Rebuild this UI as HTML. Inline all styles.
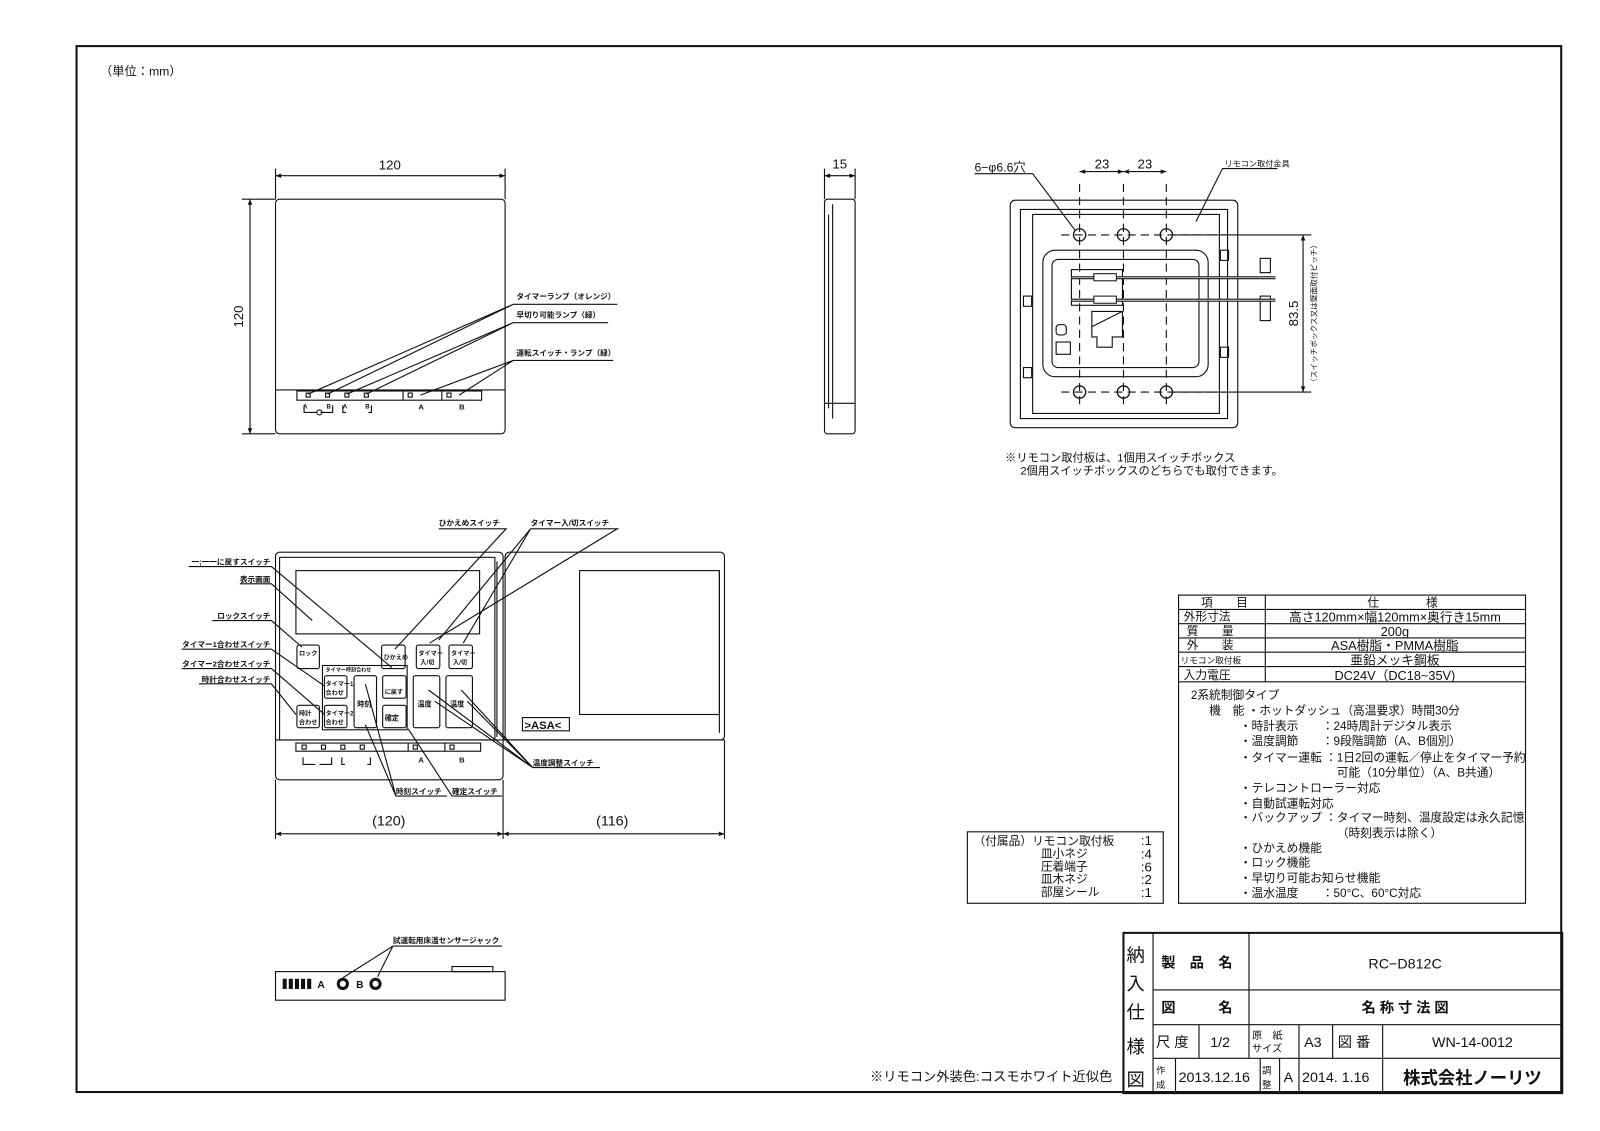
<!DOCTYPE html>
<html><head><meta charset="utf-8"><style>
html,body{margin:0;padding:0;background:#fff;}
svg{display:block;}
text{font-family:"Liberation Sans","Noto Sans CJK JP",sans-serif;fill:#111;}
.b{font-weight:bold;}
</style></head><body>
<svg width="1600" height="1131" viewBox="0 0 1568 1108" xmlns="http://www.w3.org/2000/svg">
<defs>
<marker id="ar" viewBox="0 0 10 10" refX="10" refY="5" markerWidth="7" markerHeight="5" orient="auto-start-reverse"><path d="M0,1 L10,5 L0,9 z" fill="#111"/></marker>
</defs>
<rect x="0" y="0" width="1568" height="1108" fill="#fff"/>
<rect x="75" y="45" width="1455" height="1025" fill="none" stroke="#111" stroke-width="2"/>
<text x="98" y="74" font-size="12">（単位：mm）</text>

<g fill="none" stroke="#111" stroke-width="1.1">
<!-- front view -->
<rect x="270" y="195" width="225" height="230" rx="4"/>
<line x1="270" y1="382" x2="495" y2="382"/>
<rect x="291" y="383" width="181" height="9"/>
<line x1="395" y1="383" x2="395" y2="392"/><line x1="433" y1="383" x2="433" y2="392"/>
<rect x="300" y="385" width="4" height="4"/><rect x="319" y="385" width="4" height="4"/><rect x="338" y="385" width="4" height="4"/><rect x="357" y="385" width="4" height="4"/>
<rect x="400" y="385" width="4" height="4"/><rect x="438" y="385" width="4" height="4"/>
<path d="M298 397 v7 h12 M326 397 v7 h-12 M336 397 v7 h3 M364 397 v7 h-3"/>
<circle cx="313" cy="404" r="2.5"/>
<line x1="270" y1="165" x2="270" y2="195"/><line x1="495" y1="165" x2="495" y2="195"/>
<line x1="270" y1="172" x2="495" y2="172" marker-start="url(#ar)" marker-end="url(#ar)"/>
<line x1="237" y1="195" x2="270" y2="195"/><line x1="237" y1="425" x2="270" y2="425"/>
<line x1="245" y1="195" x2="245" y2="425" marker-start="url(#ar)" marker-end="url(#ar)"/>
<path d="M605 298 H503 L302 386 M503 298 L321 386 M596 316 H503 L340 386 M503 316 L359 386 M601 353 H503 L412 387 M503 353 L450 387"/>
<!-- side view -->
<rect x="808" y="195" width="30" height="230" rx="3"/>
<line x1="812" y1="210" x2="812" y2="400"/><line x1="816" y1="200" x2="816" y2="410"/>
<line x1="808" y1="395" x2="838" y2="395"/>
<line x1="808" y1="165" x2="808" y2="195"/><line x1="838" y1="165" x2="838" y2="195"/>
<line x1="808" y1="172" x2="838" y2="172" marker-start="url(#ar)" marker-end="url(#ar)"/>
<!-- mount plate -->
<rect x="990" y="196" width="223" height="223" rx="5"/>
<path d="M1000 205 H1203 V410 H1000 Z"/>
<path d="M1012 210 H1195 V405 H1012 Z"/>
<rect x="1022" y="245" width="162" height="124" rx="12"/>
<rect x="1031" y="254" width="144" height="106" rx="6"/>
<rect x="1050" y="264" width="50" height="35"/>
<path d="M1070 305 h30 v25 h-10 v10 h-15 v-10 h-5 z M1070 320 L1100 305"/>
<rect x="1035" y="318" width="10" height="10" rx="3"/>
<rect x="1035" y="335" width="14" height="12"/>
<rect x="1003" y="290" width="8" height="10"/><rect x="1003" y="360" width="8" height="10"/>
<rect x="1196" y="245" width="8" height="10"/><rect x="1196" y="340" width="8" height="10"/>
<g stroke-width="1.3">
<circle cx="1058" cy="230" r="6"/><circle cx="1101" cy="230" r="6"/><circle cx="1143" cy="230" r="6"/>
<circle cx="1058" cy="384" r="6"/><circle cx="1101" cy="384" r="6"/><circle cx="1143" cy="384" r="6"/>
</g>
<g stroke-dasharray="8 5">
<line x1="1040" y1="230" x2="1210" y2="230"/><line x1="1040" y1="384" x2="1210" y2="384"/>
<line x1="1058" y1="180" x2="1058" y2="400"/><line x1="1101" y1="180" x2="1101" y2="400"/><line x1="1143" y1="180" x2="1143" y2="400"/>
</g>
<line x1="1058" y1="168" x2="1101" y2="168" marker-start="url(#ar)" marker-end="url(#ar)"/>
<line x1="1101" y1="168" x2="1143" y2="168" marker-start="url(#ar)" marker-end="url(#ar)"/>
<line x1="1150" y1="230" x2="1285" y2="230"/><line x1="1150" y1="384" x2="1285" y2="384"/>
<line x1="1277" y1="230" x2="1277" y2="384" marker-start="url(#ar)" marker-end="url(#ar)"/>
<path d="M955 170 H1012 L1054 226 M1252 165 H1198 L1172 217"/>
<rect x="1235" y="253" width="10" height="14"/><rect x="1235" y="290" width="10" height="24"/>
</g>
<g stroke="#111" stroke-width="3">
<line x1="1050" y1="272" x2="1250" y2="272"/><line x1="1050" y1="294" x2="1250" y2="294"/>
</g>
<g stroke="#fff" stroke-width="0.8"><line x1="1050" y1="272" x2="1250" y2="272"/><line x1="1050" y1="294" x2="1250" y2="294"/></g>
<rect x="1072" y="268" width="22" height="7" fill="#fff" stroke="#111"/><rect x="1072" y="290" width="22" height="7" fill="#fff" stroke="#111"/>

<!-- open view -->
<g fill="none" stroke="#111" stroke-width="1.1">
<rect x="270" y="541" width="223" height="223" rx="4"/>
<rect x="274" y="546" width="211" height="179"/>
<line x1="270" y1="725" x2="710" y2="725"/>
<rect x="290" y="559" width="180" height="62"/>
<rect x="495" y="541" width="215" height="184" rx="4"/>
<rect x="568" y="559" width="137" height="141"/>
<line x1="487" y1="550" x2="487" y2="722"/><line x1="705" y1="560" x2="705" y2="718"/>
<rect x="291" y="632" width="22" height="23" rx="2"/>
<rect x="374" y="632" width="23" height="23" rx="2"/>
<rect x="408" y="632" width="23" height="23" rx="2"/>
<rect x="440" y="632" width="23" height="23" rx="2"/>
<rect x="316" y="652" width="83" height="63"/>
<rect x="318" y="662" width="22" height="22" rx="2"/>
<rect x="318" y="691" width="22" height="22" rx="2"/>
<rect x="347" y="662" width="22" height="51" rx="2"/>
<rect x="375" y="662" width="23" height="22" rx="2"/>
<rect x="375" y="691" width="23" height="22" rx="2"/>
<rect x="405" y="662" width="26" height="51" rx="2"/>
<rect x="437" y="662" width="26" height="51" rx="2"/>
<rect x="291" y="691" width="22" height="22" rx="2"/>
<rect x="290" y="728" width="181" height="8"/>
<line x1="400" y1="728" x2="400" y2="736"/><line x1="436" y1="728" x2="436" y2="736"/>
<rect x="296" y="730" width="4" height="4"/><rect x="315" y="730" width="4" height="4"/><rect x="334" y="730" width="4" height="4"/><rect x="353" y="730" width="4" height="4"/><rect x="405" y="730" width="4" height="4"/><rect x="441" y="730" width="4" height="4"/>
<path d="M297 742 v7 h12 M325 742 v7 h-12 M335 742 v7 h3 M363 742 v7 h-3"/>
<path d="M512 703 h46 v13 h-46 z"/>
<line x1="270" y1="764" x2="270" y2="822"/><line x1="493" y1="764" x2="493" y2="822"/><line x1="710" y1="725" x2="710" y2="822"/>
<line x1="270" y1="817" x2="493" y2="817" marker-start="url(#ar)" marker-end="url(#ar)"/>
<line x1="493" y1="817" x2="710" y2="817" marker-start="url(#ar)" marker-end="url(#ar)"/>
<path d="M185 555 H266 L384 654 M235 572 H266 L306 608 M208 608 H266 L296 634 M178 636 H266 L318 672 M178 655 H266 L318 700 M195 670 H266 L290 700"/>
<path d="M430 518 H496 L387 636 M520 518 H605 L421 630 M520 518 L454 630 M520 518 L430 627"/>
<path d="M522 752 H588 M522 752 L426 687 M522 752 L458 687 M522 752 L420 676 M522 752 L452 676"/>
<path d="M388 780 H438 M388 780 L358 670 M388 780 L358 710 M443 780 H492 M443 780 L400 714"/>
<!-- bottom view -->
<rect x="270" y="952" width="225" height="28"/>
<rect x="443" y="947" width="40" height="5"/>
<path d="M385 927 H492 M385 927 L336 958 M385 927 L370 957"/>
<!-- tables -->
<rect x="1155" y="583" width="340" height="302"/>
<path d="M1155 597 H1495 M1155 611 H1495 M1155 625 H1495 M1155 639 H1495 M1155 653 H1495 M1155 668 H1495 M1240 583 V668"/>
<rect x="948" y="815" width="192" height="70"/>
<g stroke-width="2"><path d="M1101 914 H1531 V1071 H1101 Z"/></g>
<path d="M1130 914 V1071 M1224 914 V1004 M1130 970 H1531 M1130 1004 H1531 M1130 1037 H1531 M1175 1004 V1037 M1224 1004 V1037 M1273 1004 V1071 M1306 1004 V1037 M1355 1004 V1071 M1152 1037 V1071 M1235 1037 V1071 M1254 1037 V1071"/>
</g>
<g fill="#111">
<circle cx="336" cy="964" r="6"/><circle cx="368" cy="964" r="6"/>
<rect x="277" y="959" width="4" height="10"/><rect x="283" y="959" width="4" height="10"/><rect x="289" y="959" width="4" height="10"/><rect x="295" y="959" width="4" height="10"/><rect x="301" y="959" width="4" height="10"/>
</g>
<g fill="#fff"><circle cx="336" cy="964" r="3"/><circle cx="368" cy="964" r="3"/></g>

<text x="382" y="166" font-size="13" text-anchor="middle">120</text>
<text x="238" y="310" font-size="13" text-anchor="middle" transform="rotate(-90 238 310)">120</text>
<text x="823" y="165" font-size="13" text-anchor="middle">15</text>
<text x="955" y="168" font-size="12">6−φ6.6穴</text>
<text x="1080" y="165" font-size="13" text-anchor="middle">23</text>
<text x="1122" y="165" font-size="13" text-anchor="middle">23</text>
<text x="1200" y="163" font-size="8">リモコン取付金具</text>
<text x="1272" y="307" font-size="13" text-anchor="middle" transform="rotate(-90 1272 307)">83.5</text>
<text x="1290" y="307" font-size="7.5" text-anchor="middle" transform="rotate(-90 1290 307)">（スイッチボックス又は壁面取付ピッチ）</text>
<text x="985" y="452" font-size="11">※リモコン取付板は、1個用スイッチボックス</text>
<text x="1000" y="465" font-size="11">2個用スイッチボックスのどちらでも取付できます。</text>
<g font-size="7.5" class="b">
<text x="506" y="293">タイマーランプ（オレンジ）</text>
<text x="506" y="311">早切り可能ランプ（緑）</text>
<text x="506" y="348">運転スイッチ・ランプ（緑）</text>
<text x="297" y="400" font-size="6">A</text><text x="320" y="400" font-size="6">B</text><text x="336" y="400" font-size="6">A</text><text x="358" y="400" font-size="6">B</text>
<text x="410" y="401">A</text><text x="450" y="401">B</text>
<text x="410" y="747">A</text><text x="450" y="747">B</text>
<text x="430" y="515">ひかえめスイッチ</text>
<text x="520" y="515">タイマー入/切スイッチ</text>
<text x="265" y="553" text-anchor="end">一;一一に戻すスイッチ</text>
<text x="265" y="570" text-anchor="end">表示画面</text>
<text x="265" y="606" text-anchor="end">ロックスイッチ</text>
<text x="265" y="634" text-anchor="end">タイマー1合わせスイッチ</text>
<text x="265" y="653" text-anchor="end">タイマー2合わせスイッチ</text>
<text x="265" y="668" text-anchor="end">時計合わせスイッチ</text>
<text x="522" y="750">温度調整スイッチ</text>
<text x="388" y="778">時刻スイッチ</text>
<text x="443" y="778">確定スイッチ</text>
<text x="385" y="924">試運転用床温センサージャック</text>
<text x="293" y="642" font-size="6">ロック</text>
<text x="376" y="646" font-size="6">ひかえめ</text>
<text x="410" y="642" font-size="6">タイマー</text><text x="442" y="642" font-size="6">タイマー</text>
<text x="412" y="651" font-size="6">入/切</text><text x="444" y="651" font-size="6">入/切</text>
<text x="319" y="672" font-size="6">タイマー1</text><text x="319" y="681" font-size="6">合わせ</text>
<text x="319" y="701" font-size="6">タイマー2</text><text x="319" y="710" font-size="6">合わせ</text>
<text x="293" y="701" font-size="6">時計</text><text x="293" y="710" font-size="6">合わせ</text>
<text x="350" y="692" font-size="7">時刻</text>
<text x="377" y="680" font-size="6">に戻す</text>
<text x="377" y="706" font-size="7">確定</text>
<text x="409" y="692" font-size="7">温度</text><text x="441" y="692" font-size="7">温度</text>
<text x="319" y="658" font-size="5">タイマー時刻合わせ</text>
<text x="514" y="714" font-size="11">&gt;ASA&lt;</text>
<text x="311" y="968" font-size="10">A</text><text x="349" y="968" font-size="10">B</text>
</g>
<text x="381" y="809" font-size="14" text-anchor="middle">(120)</text>
<text x="600" y="809" font-size="14" text-anchor="middle">(116)</text>
<text x="1090" y="1059" font-size="13" text-anchor="end">※リモコン外装色:コスモホワイト近似色</text>

<g font-size="11.5">
<text x="1177" y="594">項　　目</text><text x="1340" y="594">仕　　　　様</text>
<text x="1160" y="608">外形寸法</text><text x="1367" y="609" text-anchor="middle" font-size="12.5">高さ120mm×幅120mm×奥行き15mm</text>
<text x="1163" y="622">質　　量</text><text x="1367" y="623" text-anchor="middle" font-size="12.5">200g</text>
<text x="1163" y="636">外　　装</text><text x="1367" y="637" text-anchor="middle" font-size="12.5">ASA樹脂・PMMA樹脂</text>
<text x="1157" y="650" font-size="8.5">リモコン取付板</text><text x="1367" y="651" text-anchor="middle" font-size="12.5">亜鉛メッキ鋼板</text>
<text x="1160" y="665">入力電圧</text><text x="1367" y="666" text-anchor="middle" font-size="12.5">DC24V（DC18~35V)</text>
<text x="1167" y="685">2系統制御タイプ</text>
<text x="1185" y="700">機　能 ・ホットダッシュ（高温要求）時間30分</text>
<text x="1215" y="715">・時計表示　　：24時周計デジタル表示</text>
<text x="1215" y="730">・温度調節　　：9段階調節（A、B個別）</text>
<text x="1215" y="746">・タイマー運転 ：1日2回の運転／停止をタイマー予約</text>
<text x="1310" y="761">可能（10分単位）（A、B共通）</text>
<text x="1215" y="776">・テレコントローラー対応</text>
<text x="1215" y="791">・自動試運転対応</text>
<text x="1215" y="805">・バックアップ ：タイマー時刻、温度設定は永久記憶</text>
<text x="1310" y="820">（時刻表示は除く）</text>
<text x="1215" y="835">・ひかえめ機能</text>
<text x="1215" y="849">・ロック機能</text>
<text x="1215" y="864">・早切り可能お知らせ機能</text>
<text x="1215" y="879">・温水温度　　：50°C、60°C対応</text>
<text x="954" y="828">（付属品）リモコン取付板</text><text x="1118" y="828" font-size="13">:1</text>
<text x="1020" y="840">皿小ネジ</text><text x="1118" y="841" font-size="13">:4</text>
<text x="1020" y="853">圧着端子</text><text x="1118" y="854" font-size="13">:6</text>
<text x="1020" y="865">皿木ネジ</text><text x="1118" y="866" font-size="13">:2</text>
<text x="1020" y="878">部屋シール</text><text x="1118" y="879" font-size="13">:1</text>
</g>
<g font-size="18">
<text x="1104" y="942">納</text><text x="1104" y="970">入</text><text x="1104" y="998">仕</text><text x="1104" y="1032">様</text><text x="1104" y="1064">図</text>
</g>
<g font-size="14">
<text x="1138" y="948" class="b">製　品　名</text>
<text x="1377" y="949" text-anchor="middle">RC−D812C</text>
<text x="1138" y="992" class="b">図　　　名</text>
<text x="1377" y="992" text-anchor="middle" class="b">名 称 寸 法 図</text>
<text x="1133" y="1026">尺 度</text><text x="1186" y="1026">1/2</text>
<text x="1227" y="1018" font-size="10">原　紙</text><text x="1227" y="1031" font-size="10">サイズ</text>
<text x="1278" y="1026">A3</text><text x="1311" y="1026">図 番</text>
<text x="1443" y="1026" text-anchor="middle">WN-14-0012</text>
<text x="1133" y="1052" font-size="9">作</text><text x="1133" y="1066" font-size="9">成</text>
<text x="1155" y="1060">2013.12.16</text>
<text x="1237" y="1052" font-size="9">調</text><text x="1237" y="1066" font-size="9">整</text>
<text x="1258" y="1060">A</text>
<text x="1276" y="1060">2014. 1.16</text>
<text x="1443" y="1062" text-anchor="middle" font-size="17" class="b">株式会社ノーリツ</text>
</g>
</svg>
</body></html>
